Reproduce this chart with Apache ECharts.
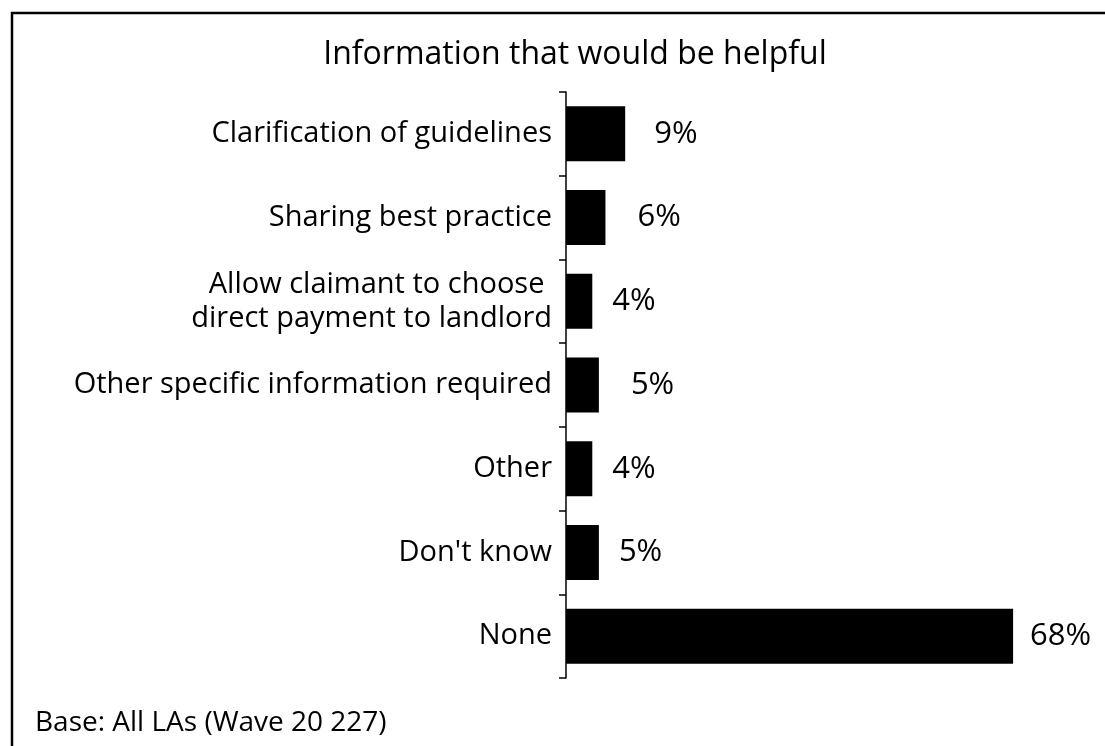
<!DOCTYPE html>
<html><head><meta charset="utf-8">
<script src="https://cdn.jsdelivr.net/npm/echarts@6/dist/echarts.min.js"></script>
<style>html,body{margin:0;padding:0;background:#fff}#c{width:1105px;height:746px}</style>
</head><body><div id="c"></div>
<script>
const categories = ["Clarification of guidelines","Sharing best practice","Allow claimant to choose \ndirect payment to landlord","Other specific information required","Other","Don't know","None"];
const values = [9,6,4,5,4,5,68];
const labelGap = [29,32,20,32,20,20,17];
const titleText = "Information that would be helpful";
const footerText = "Base: All LAs (Wave 20 227)";
const FONT = "'Open Sans', 'Noto Sans', sans-serif";

const chart = echarts.init(document.getElementById('c'), null, {renderer:'canvas'});
chart.setOption({
  animation:false,
  backgroundColor:'#fff',
  title:{text:titleText, left:570, top:34, textAlign:'center',
    textStyle:{fontFamily:FONT, fontSize:32, fontWeight:'normal', color:'#000'}},
  graphic:[
    {type:'rect', shape:{x:12, y:13, width:1200, height:800}, style:{fill:'none', stroke:'#000', lineWidth:2.5}},
    {type:'text', left:35, top:709, style:{text:footerText, font:"28px 'Open Sans', 'Noto Sans', sans-serif", fill:'#000'}}
  ],
  grid:{left:566, top:92, width:526, height:586, containLabel:false},
  xAxis:{type:'value', min:0, max:80, show:false},
  yAxis:{type:'category', data:categories, inverse:true,
    axisLine:{show:true, lineStyle:{color:'#000', width:1.5}},
    axisTick:{show:true, length:7, inside:false, alignWithLabel:false, lineStyle:{color:'#000', width:1.5}},
    axisLabel:{fontFamily:FONT, fontSize:29, color:'#000', margin:14, lineHeight:34, align:'right'},
    splitLine:{show:false}},
  series:[{type:'bar', barWidth:55,
    data: values.map((v,i)=>({value:v, label:{distance:labelGap[i]}})),
    itemStyle:{color:'#000'},
    label:{show:true, position:'right', formatter:'{c}%', fontFamily:FONT, fontSize:31, color:'#000'}
  }]
});
</script></body></html>
